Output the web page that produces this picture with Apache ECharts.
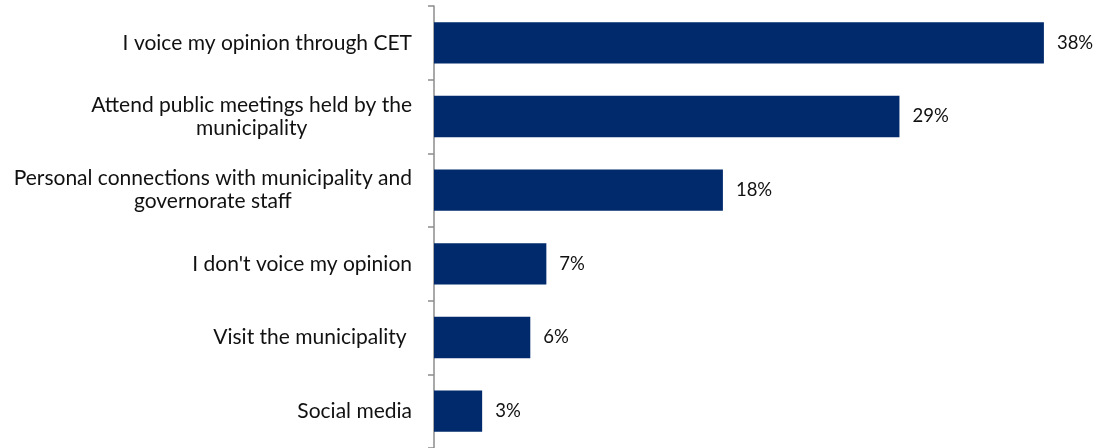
<!DOCTYPE html>
<html>
<head>
<meta charset="utf-8">
<script src="https://cdn.jsdelivr.net/npm/echarts@6/dist/echarts.min.js"></script>
<style>
  html, body { margin: 0; padding: 0; background: #fff; }
  #chart { width: 1096px; height: 448px; }
</style>
</head>
<body>
<div id="chart"></div>
<script>
// Ways respondents voice their opinion (top to bottom)
const categories = [
  'I voice my opinion through CET',
  'Attend public meetings held by the\nmunicipality',
  'Personal connections with municipality and\ngovernorate staff',
  "I don't voice my opinion",
  'Visit the municipality ',
  'Social media'
];
const values = [38, 29, 18, 7, 6, 3];

const chart = echarts.init(document.getElementById('chart'));
const FONT = 'Lato, "Open Sans", sans-serif';

chart.setOption({
  animation: false,
  grid: { left: 434, top: 6, width: 642, height: 444 },
  xAxis: {
    type: 'value', min: 0, max: 40,
    show: false
  },
  yAxis: {
    type: 'category',
    inverse: true,
    data: categories,
    axisLine: { show: true, lineStyle: { color: '#8c8c8c', width: 1.5 } },
    axisTick: { show: true, length: 6, lineStyle: { color: '#8c8c8c', width: 1.5 } },
    axisLabel: {
      margin: 22,
      color: '#111',
      fontFamily: FONT,
      fontSize: 21,
      lineHeight: 23,
      // multi-line labels: lines centred within the right-aligned block
      formatter: v => v.split('\n').map(l => '{c|' + l + '}').join('\n'),
      rich: { c: { align: 'center', fontFamily: FONT, fontSize: 21, lineHeight: 23, color: '#111' } }
    }
  },
  series: [{
    type: 'bar',
    data: values,
    barCategoryGap: '44%',
    itemStyle: { color: '#002a6c' },
    label: {
      show: true, position: 'right', distance: 13,
      formatter: p => p.value + '%',
      fontFamily: FONT, fontSize: 18.5, color: '#111'
    }
  }]
});
</script>
</body>
</html>
